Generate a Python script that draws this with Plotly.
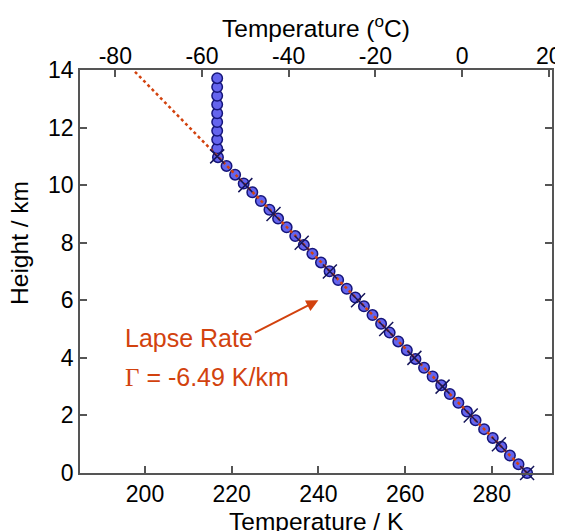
import plotly.graph_objects as go

# Standard atmosphere profile (heights every 1000 ft, in km) and temperatures (K)
height_km = [0, 0.3048, 0.6096, 0.9144, 1.2192, 1.524, 1.8288, 2.1336, 2.4384, 2.7432,
             3.048, 3.3528, 3.6576, 3.9624, 4.2672, 4.572, 4.8768, 5.1816, 5.4864, 5.7912,
             6.096, 6.4008, 6.7056, 7.0104, 7.3152, 7.62, 7.9248, 8.2296, 8.5344, 8.8392,
             9.144, 9.4488, 9.7536, 10.0584, 10.3632, 10.668, 10.9728, 11.2776, 11.5824, 11.8872,
             12.192, 12.4968, 12.8016, 13.1064, 13.4112, 13.716]
temp_K = [288.15, 286.17, 284.19, 282.21, 280.23, 278.24, 276.26, 274.28, 272.30, 270.32,
          268.34, 266.36, 264.38, 262.39, 260.41, 258.43, 256.45, 254.47, 252.49, 250.51,
          248.53, 246.54, 244.56, 242.58, 240.60, 238.62, 236.64, 234.66, 232.68, 230.70,
          228.71, 226.73, 224.75, 222.77, 220.79, 218.81, 216.83, 216.65, 216.65, 216.65,
          216.65, 216.65, 216.65, 216.65, 216.65, 216.65]

# Tabulated values at whole kilometres (cross markers)
km_height = [0, 1, 2, 3, 4, 5, 6, 7, 8, 9, 10, 11]
km_temp = [288.15, 281.65, 275.15, 268.65, 262.15, 255.65, 249.15, 242.65, 236.15, 229.65, 223.15, 216.65]

# Linear fit (lapse rate -6.49 K/km)
fit_height = [0, 14]
fit_temp = [288.15, 197.29]

x_ticks_K = [200, 220, 240, 260, 280]
x_ticks_C = [-80, -60, -40, -20, 0, 20]
x_labels_C = ["-80", "-60", "-40", "-20", "0", "20"]
y_ticks = [0, 2, 4, 6, 8, 10, 12, 14]

red = "#d2420e"
font = "Liberation Sans, Arial, Helvetica, sans-serif"
axis_col = "#555555"
tick_size = 23
title_size = 24.5

fig = go.Figure()
fig.add_trace(go.Scatter(
    x=temp_K, y=height_km, mode="markers",
    marker=dict(symbol="circle", size=10.5, color="#6464ee",
                line=dict(color="#15157a", width=1.5)),
    showlegend=False, cliponaxis=False))
fig.add_trace(go.Scatter(
    x=fit_temp, y=fit_height, mode="lines",
    line=dict(color=red, width=2.5, dash="dot"), showlegend=False))
fig.add_trace(go.Scatter(
    x=km_temp, y=km_height, mode="markers",
    marker=dict(symbol="x-thin", size=14, line=dict(color="#15155a", width=1.5)),
    showlegend=False, cliponaxis=False))
# invisible trace for top Celsius axis
fig.add_trace(go.Scatter(x=[t - 273.15 for t in fit_temp], y=fit_height, xaxis="x2",
                         mode="lines", line=dict(width=0), opacity=0,
                         showlegend=False, hoverinfo="skip"))

fig.add_annotation(x=194.9, y=4.69, xref="x", yref="y", text="Lapse Rate",
                   showarrow=False, xanchor="left", yanchor="middle",
                   font=dict(family=font, size=25, color=red))
fig.add_annotation(x=194.9, y=3.33, xref="x", yref="y",
                   text="<span style='font-family:Liberation Serif'>Γ</span> = -6.49 K/km",
                   showarrow=False, xanchor="left", yanchor="middle",
                   font=dict(family=font, size=25, color=red))
fig.add_annotation(x=240, y=6.0, xref="x", yref="y", ax=225, ay=4.85,
                   axref="x", ayref="y", text="", showarrow=True,
                   arrowhead=2, arrowsize=1.2, arrowwidth=2, arrowcolor=red)
# axis titles
fig.add_annotation(x=0.5, y=1, xref="paper", yref="paper", yshift=44,
                   text="Temperature (<sup>o</sup>C)", showarrow=False,
                   xanchor="center", yanchor="middle",
                   font=dict(family=font, size=title_size, color="black"))
fig.add_annotation(x=0.5, y=0, xref="paper", yref="paper", yshift=-48,
                   text="Temperature / K", showarrow=False,
                   xanchor="center", yanchor="middle",
                   font=dict(family=font, size=title_size, color="black"))
fig.add_annotation(x=0, y=0.571, xref="paper", yref="paper", xshift=-60,
                   text="Height / km", showarrow=False, textangle=-90,
                   xanchor="center", yanchor="middle",
                   font=dict(family=font, size=title_size, color="black"))

common = dict(ticks="inside", ticklen=7, tickcolor=axis_col, tickwidth=1.5,
              showline=True, linecolor=axis_col, linewidth=1.5, showgrid=False,
              zeroline=False, automargin=False, tickfont=dict(size=tick_size))

fig.update_layout(
    width=555, height=523,
    margin=dict(l=72, r=11, t=62, b=58),
    plot_bgcolor="white", paper_bgcolor="white",
    font=dict(family=font, size=tick_size, color="black"),
    xaxis=dict(range=[185, 293.9], tickvals=x_ticks_K, mirror=False, **common),
    xaxis2=dict(range=[185 - 273.15, 293.9 - 273.15], tickvals=x_ticks_C, ticktext=x_labels_C,
                overlaying="x", side="top", anchor="y", ticklabelstandoff=-5, **common),
    yaxis=dict(range=[0, 14], tickvals=y_ticks, mirror="ticks", **common),
)

fig.write_html("out.html")
